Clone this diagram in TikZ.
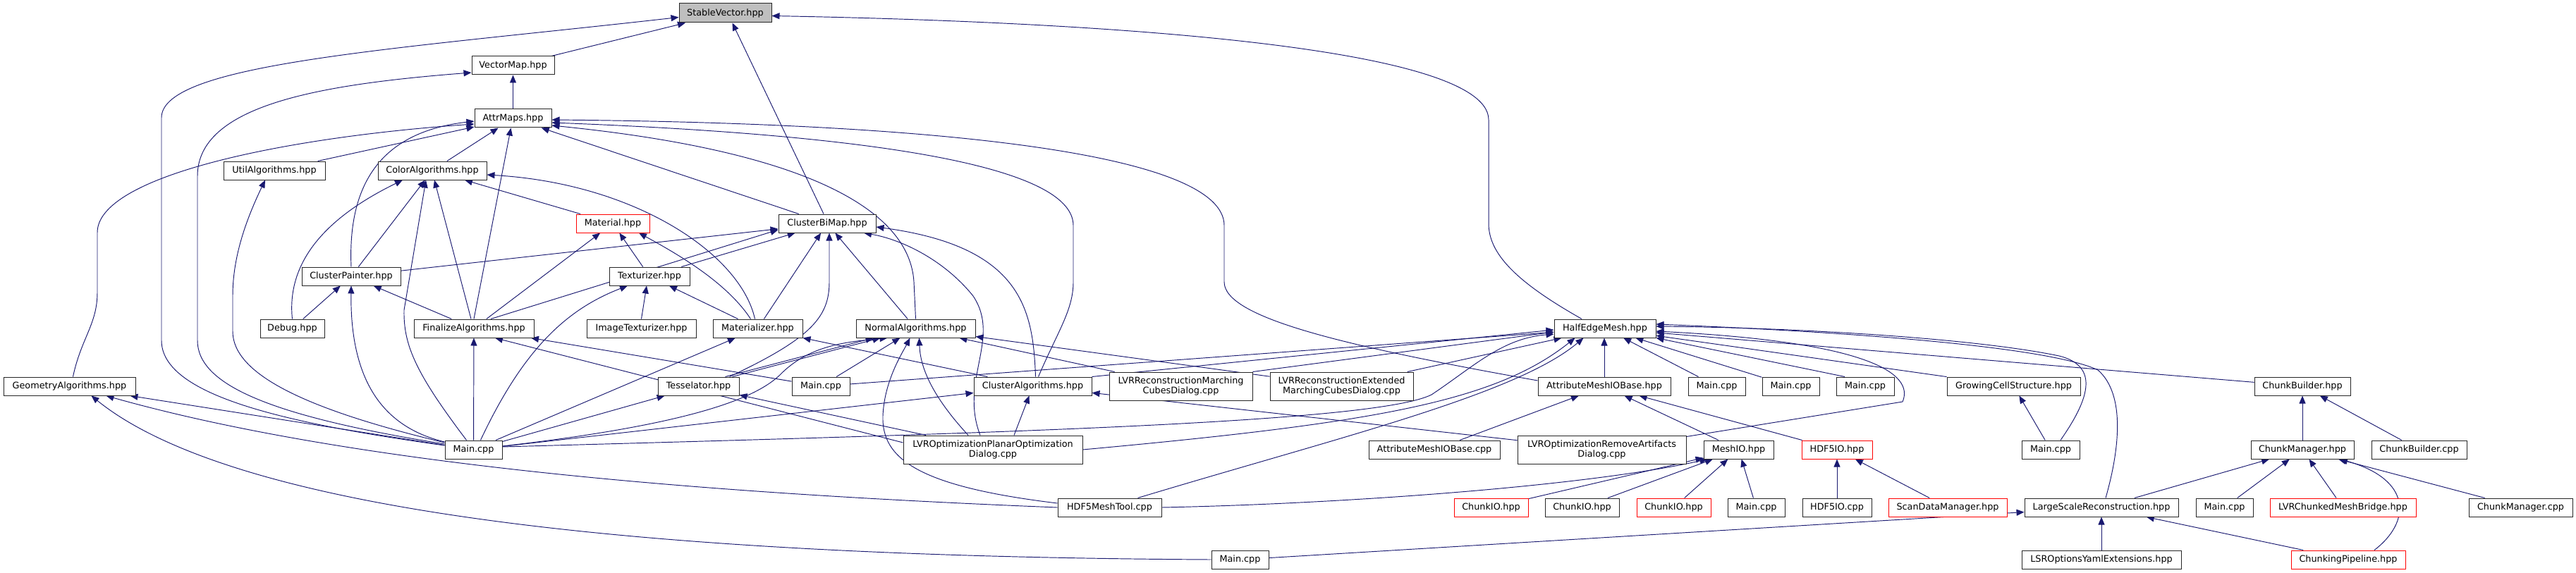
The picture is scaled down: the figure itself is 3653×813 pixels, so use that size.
\documentclass[tikz,border=0pt]{standalone}
\usepackage{fontspec}
\setmainfont{DejaVu Sans}
\usetikzlibrary{arrows.meta,calc}
\definecolor{edgecol}{HTML}{191970}
\definecolor{svgray}{HTML}{BFBFBF}
\pgfdeclarelayer{edges}
\pgfsetlayers{edges,main}
\tikzset{
  nd/.style={draw=black!85, line width=1pt, fill=white, minimum height=26pt, inner sep=0pt,
    align=center, font=\fontsize{12.8pt}{14.3pt}\selectfont},
  ndred/.style={nd, draw=red},
  tall/.style={minimum height=40pt},
  e/.style={draw=edgecol, line width=0.95pt, -{Triangle[length=11pt,width=9pt]}}
}
\begin{document}
\begin{tikzpicture}[x=1pt,y=-1pt]
\useasboundingbox (0,0) rectangle (3653,813);
% ---- nodes ----
\node[nd,fill=svgray,minimum width=131pt,minimum height=27pt] (SV) at (1028.5,18.5) {StableVector.hpp};
\node[nd,minimum width=117pt] (VM) at (727.5,93) {VectorMap.hpp};
\node[nd,minimum width=109pt] (AM) at (727.5,168) {AttrMaps.hpp};
\node[nd,minimum width=144pt] (UA) at (389,242) {UtilAlgorithms.hpp};
\node[nd,minimum width=154pt] (CA) at (613,242) {ColorAlgorithms.hpp};
\node[ndred,minimum width=104pt] (MAT) at (869,317) {Material.hpp};
\node[nd,minimum width=138pt] (CBM) at (1173,317) {ClusterBiMap.hpp};
\node[nd,minimum width=140pt] (CP) at (498,392) {ClusterPainter.hpp};
\node[nd,minimum width=114pt] (TX) at (921,392) {Texturizer.hpp};
\node[nd,minimum width=91pt] (DBG) at (414.5,466) {Debug.hpp};
\node[nd,minimum width=170pt] (FA) at (672,466) {FinalizeAlgorithms.hpp};
\node[nd,minimum width=155pt] (IT) at (909.5,466) {ImageTexturizer.hpp};
\node[nd,minimum width=127pt] (MZ) at (1074.5,466) {Materializer.hpp};
\node[nd,minimum width=169pt] (NA) at (1298.5,466) {NormalAlgorithms.hpp};
\node[nd,minimum width=144pt] (HEM) at (2276,466) {HalfEdgeMesh.hpp};
\node[nd,minimum width=187pt] (GA) at (98.5,548) {GeometryAlgorithms.hpp};
\node[nd,minimum width=115pt] (TS) at (990.5,548) {Tesselator.hpp};
\node[nd,minimum width=82pt] (M2) at (1164,548) {Main.cpp};
\node[nd,minimum width=167pt] (CLA) at (1464.5,548) {ClusterAlgorithms.hpp};
\node[nd,tall,minimum width=203pt] (LRM) at (1674.5,548) {LVRReconstructionMarching\\CubesDialog.cpp};
\node[nd,tall,minimum width=203pt] (LRE) at (1902.5,548) {LVRReconstructionExtended\\MarchingCubesDialog.cpp};
\node[nd,minimum width=188pt] (AMB) at (2275,548) {AttributeMeshIOBase.hpp};
\node[nd,minimum width=81pt] (M3) at (2434.5,548) {Main.cpp};
\node[nd,minimum width=81pt] (M4) at (2539.5,548) {Main.cpp};
\node[nd,minimum width=82pt] (M5) at (2645,548) {Main.cpp};
\node[nd,minimum width=189pt] (GCS) at (2855.5,548) {GrowingCellStructure.hpp};
\node[nd,minimum width=136pt] (CB) at (3265,548) {ChunkBuilder.hpp};
\node[nd,minimum width=81pt] (M1) at (671.5,638) {Main.cpp};
\node[nd,tall,minimum width=254pt] (LOP) at (1408,638) {LVROptimizationPlanarOptimization\\Dialog.cpp};
\node[nd,minimum width=186pt] (AMC) at (2034,638) {AttributeMeshIOBase.cpp};
\node[nd,tall,minimum width=239pt] (LORA) at (2271.5,638) {LVROptimizationRemoveArtifacts\\Dialog.cpp};
\node[nd,minimum width=99pt] (MIO) at (2465.5,638) {MeshIO.hpp};
\node[ndred,minimum width=100pt] (H5) at (2605,638) {HDF5IO.hpp};
\node[nd,minimum width=82pt] (M6) at (2908,638) {Main.cpp};
\node[nd,minimum width=146pt] (CM) at (3265,638) {ChunkManager.hpp};
\node[nd,minimum width=135pt] (CBC) at (3430.5,638) {ChunkBuilder.cpp};
\node[nd,minimum width=147pt] (H5MT) at (1573.5,720) {HDF5MeshTool.cpp};
\node[ndred,minimum width=105pt] (CIO1) at (2114.5,720) {ChunkIO.hpp};
\node[nd,minimum width=105pt] (CIO2) at (2243.5,720) {ChunkIO.hpp};
\node[ndred,minimum width=105pt] (CIO3) at (2373.5,720) {ChunkIO.hpp};
\node[nd,minimum width=81pt] (M7) at (2490.5,720) {Main.cpp};
\node[nd,minimum width=98pt] (H5C) at (2605,720) {HDF5IO.cpp};
\node[ndred,minimum width=168pt] (SDM) at (2762,720) {ScanDataManager.hpp};
\node[nd,minimum width=218pt] (LSR) at (2980,720) {LargeScaleReconstruction.hpp};
\node[nd,minimum width=81pt] (M8) at (3154.5,720) {Main.cpp};
\node[ndred,minimum width=207pt] (LCB) at (3322.5,720) {LVRChunkedMeshBridge.hpp};
\node[nd,minimum width=147pt] (CMC) at (3574.5,720) {ChunkManager.cpp};
\node[nd,minimum width=81pt] (M9) at (1758.5,794) {Main.cpp};
\node[nd,minimum width=226pt] (LSRO) at (2980,794) {LSROptionsYamlExtensions.hpp};
\node[ndred,minimum width=162pt] (CPL) at (3330,794) {ChunkingPipeline.hpp};
% ---- edges ----
\begin{pgfonlayer}{edges}
% StableVector
\draw[e] (VM) -- (SV);
\draw[e] ($(M1.west)+(0,-6)$) .. controls (400,600) and (229,560) .. (229,483) -- (229,167) .. controls (229,90) and (560,70) .. ($(SV.west)+(0,6)$);
\draw[e] ($(CBM.north)+(-5,0)$) -- ($(SV.south)+(10,0)$);
\draw[e] ($(HEM.north)+(-33,0)$) .. controls (2150,400) and (2111,360) .. (2111,317) -- (2111,170) .. controls (2111,60) and (1500,30) .. ($(SV.east)+(0,4)$);
% VectorMap
\draw[e] ($(M1.west)+(0,-8)$) .. controls (380,590) and (280,545) .. (280,483) -- (280,250) .. controls (280,150) and (450,120) .. ($(VM.west)+(0,10)$);
\draw[e] (AM) -- (VM);
% UtilAlgorithms
\draw[e] ($(M1.west)+(0,-10)$) .. controls (430,580) and (330,530) .. (330,470) -- (330,420) .. controls (330,370) and (345,320) .. ($(UA.south)+(-13,0)$);
% AttrMaps
\draw[e] ($(GA.north)+(5,0)$) .. controls (115,480) and (138,460) .. (138,415) -- (138,330) .. controls (138,250) and (400,195) .. ($(AM.west)+(0,8)$);
\draw[e] (CP.north) .. controls (492,240) and (560,185) .. ($(AM.west)+(0,4)$);
\draw[e] (UA) -- (AM);
\draw[e] (CA) -- (AM);
\draw[e] (FA.north) -- ($(AM.south)+(-3,0)$);
\draw[e] (CBM) -- (AM);
\draw[e] (NA.north) -- (1296,400) .. controls (1290,300) and (1150,215) .. ($(AM.east)+(0,10)$);
\draw[e] ($(CLA.north)+(8,0)$) .. controls (1500,470) and (1522,440) .. (1522,400) -- (1522,320) .. controls (1522,230) and (1200,190) .. ($(AM.east)+(0,6)$);
\draw[e] ($(AMB.west)+(0,-8)$) .. controls (1900,490) and (1736,450) .. (1736,400) -- (1736,320) .. controls (1736,220) and (1350,175) .. ($(AM.east)+(0,2)$);
% ColorAlgorithms
\draw[e] (DBG.north) .. controls (405,360) and (480,300) .. ($(CA.south)+(-42,0)$);
\draw[e] (CP) -- (CA);
\draw[e] ($(M1.north)+(-10,0)$) .. controls (590,530) and (572,490) .. (573,440) -- ($(CA.south)+(-9,0)$);
\draw[e] ($(FA.north)+(-4,0)$) -- ($(CA.south)+(3,0)$);
\draw[e] (MAT) -- (CA);
\draw[e] ($(MZ.north)+(-4,0)$) .. controls (1050,360) and (900,260) .. ($(CA.east)+(0,6)$);
% Material
\draw[e] (FA) -- (MAT);
\draw[e] (TX) -- (MAT);
\draw[e] ($(MZ.north)+(-10,0)$) .. controls (1030,400) and (960,360) .. ($(MAT.south)+(37,0)$);
% ClusterBiMap
\draw[e] (CP) -- (CBM);
\draw[e] ($(FA.north)+(24,0)$) -- ($(CBM.west)+(0,9)$);
\draw[e] (TX) -- (CBM);
\draw[e] (MZ) -- (CBM);
\draw[e] ($(TS.north)+(44,0)$) .. controls (1150,480) and (1176,450) .. (1176,400) -- ($(CBM.south)+(3,0)$);
\draw[e] (NA) -- (CBM);
\draw[e] ($(LOP.north)+(-18,0)$) .. controls (1360,540) and (1420,480) .. (1380,420) .. controls (1340,370) and (1280,340) .. ($(CBM.south)+(52,0)$);
\draw[e] ($(CLA.north)+(4,0)$) .. controls (1465,440) and (1450,350) .. ($(CBM.east)+(0,5)$);
% Texturizer
\draw[e] (IT.north) -- ($(TX.south)+(-4,0)$);
\draw[e] (MZ) -- (TX);
\draw[e] ($(M1.north)+(10,0)$) .. controls (740,500) and (800,440) .. ($(TX.south)+(-31,0)$);
% ClusterPainter
\draw[e] (DBG) -- (CP);
\draw[e] ($(M1.west)+(0,-11)$) .. controls (560,610) and (496,560) .. (CP.south);
\draw[e] (FA) -- (CP);
% FinalizeAlgorithms
\draw[e] (M1) -- (FA);
\draw[e] (M2) -- (FA);
\draw[e] ($(LOP.west)+(0,-10)$) -- ($(FA.south)+(30,0)$);
% Materializer
\draw[e] (M1) -- (MZ);
\draw[e] (CLA) -- (MZ);
% NormalAlgorithms
\draw[e] ($(TS.north)+(38,0)$) -- ($(NA.south)+(-60,0)$);
\draw[e] ($(TS.north)+(48,0)$) -- ($(NA.south)+(-50,0)$);
\draw[e] ($(M1.east)+(0,-5)$) .. controls (1000,600) and (1080,560) .. (1110,528) .. controls (1150,490) and (1200,485) .. ($(NA.south)+(-40,0)$);
\draw[e] (M2) -- (NA);
\draw[e] ($(H5MT.west)+(0,-6)$) .. controls (1300,690) and (1250,650) .. (1252,590) .. controls (1254,540) and (1280,500) .. ($(NA.south)+(-8,0)$);
\draw[e] ($(LOP.north)+(-35,0)$) .. controls (1320,560) and (1305,520) .. ($(NA.south)+(5,0)$);
\draw[e] (LRM) -- (NA);
\draw[e] (LRE) -- (NA);
% ClusterAlgorithms
\draw[e] ($(LOP.north)+(30,0)$) -- ($(CLA.south)+(-5,0)$);
\draw[e] (M1) -- (CLA);
\draw[e] (LORA) -- (CLA);
% Tesselator
\draw[e] (M1) -- (TS);
\draw[e] (LOP) -- (TS);
% GeometryAlgorithms
\draw[e] (M1) -- (GA);
\draw[e] (H5MT.west) .. controls (1000,700) and (500,660) .. ($(GA.south)+(52,0)$);
\draw[e] (M9.west) .. controls (1000,790) and (350,740) .. ($(GA.south)+(31,0)$);
% HalfEdgeMesh
\draw[e] (M2) -- (HEM);
\draw[e] (CLA.north east) -- ($(HEM.west)+(0,2)$);
\draw[e] (LRM.north east) -- ($(HEM.west)+(0,5)$);
\draw[e] (LRE) -- (HEM);
\draw[e] ($(M1.east)+(0,-4)$) .. controls (1400,615) and (1950,600) .. (2030,560) .. controls (2090,520) and (2130,480) .. ($(HEM.west)+(0,8)$);
\draw[e] (LOP.east) .. controls (1950,600) and (2120,570) .. ($(HEM.south west)+(30,0)$);
\draw[e] ($(H5MT.north)+(40,0)$) .. controls (1900,620) and (2150,560) .. ($(HEM.south west)+(42,0)$);
\draw[e] (AMB.north) -- ($(HEM.south)+(-1,0)$);
\draw[e] (M3) -- (HEM);
\draw[e] (M4) -- (HEM);
\draw[e] ($(M5.north)+(-29,0)$) -- (HEM.south east);
\draw[e] ($(LORA.north east)+(0,2)$) -- (2698,570) .. controls (2715,530) and (2650,485) .. ($(HEM.east)+(0,4)$);
\draw[e] ($(LSR.north)+(6,0)$) .. controls (3005,640) and (3015,560) .. (2975,525) .. controls (2900,490) and (2600,470) .. ($(HEM.east)+(0,-6)$);
\draw[e] ($(M6.north)+(14,0)$) .. controls (2960,570) and (2980,520) .. (2920,505) .. controls (2800,480) and (2550,465) .. ($(HEM.east)+(0,-3)$);
\draw[e] (CB) -- (HEM);
\draw[e] (GCS) -- (HEM);
% AttributeMeshIOBase
\draw[e] (AMC) -- (AMB);
\draw[e] (MIO) -- (AMB);
\draw[e] (H5) -- (AMB);
% MeshIO
\draw[e] (H5MT.east) .. controls (1900,715) and (2250,690) .. ($(MIO.south west)+(6,0)$);
\draw[e] (CIO1) -- (MIO);
\draw[e] (CIO2) -- (MIO);
\draw[e] (CIO3) -- (MIO);
\draw[e] (M7) -- (MIO);
% HDF5IO
\draw[e] (H5C) -- (H5);
\draw[e] (SDM) -- (H5);
% GrowingCellStructure
\draw[e] (M6) -- (GCS);
% ChunkBuilder
\draw[e] (CM) -- (CB);
\draw[e] (CBC) -- (CB);
% ChunkManager
\draw[e] (LSR) -- (CM);
\draw[e] (M8) -- (CM);
\draw[e] (LCB) -- (CM);
\draw[e] ($(CPL.north)+(37,0)$) .. controls (3420,740) and (3420,680) .. ($(CM.south)+(53,0)$);
\draw[e] (CMC) -- (CM);
% LargeScaleReconstruction
\draw[e] (M9) -- (LSR);
\draw[e] (LSRO) -- (LSR);
\draw[e] (CPL) -- (LSR);
\end{pgfonlayer}
\end{tikzpicture}
\end{document}
